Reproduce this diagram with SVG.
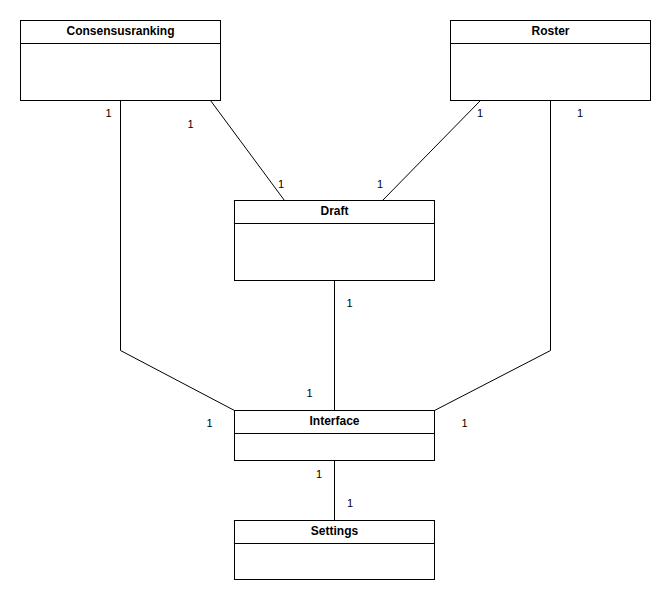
<svg xmlns="http://www.w3.org/2000/svg" width="671" height="601" viewBox="0 0 671 601">
  <style>
    .box { fill: #ffffff; stroke: #000000; stroke-width: 1; }
    .sep { stroke: #000000; stroke-width: 1; fill: none; }
    .edge { stroke: #000000; stroke-width: 1; fill: none; }
    .title { font-family: "Liberation Sans", Arial, sans-serif; font-size: 12px; font-weight: bold; text-anchor: middle; fill: #000000; }
    .mult { font-family: "Liberation Sans", Arial, sans-serif; font-size: 11px; text-anchor: middle; fill: #000000; }
  </style>
  <rect width="671" height="601" fill="#ffffff"/>

  <!-- associations -->
  <g id="connectors">
    <polyline class="edge" points="120.5,100.5 120.5,350.5 234.5,410.5"/>
    <line class="edge" x1="210.5" y1="100.5" x2="284.5" y2="200.5"/>
    <line class="edge" x1="480.5" y1="100.5" x2="382.5" y2="200.5"/>
    <polyline class="edge" points="550.5,100.5 550.5,350.5 434.5,410.5"/>
    <line class="edge" x1="334.5" y1="280.5" x2="334.5" y2="410.5"/>
    <line class="edge" x1="334.5" y1="460.5" x2="334.5" y2="520.5"/>
    <text class="mult" x="108.5" y="117">1</text>
    <text class="mult" x="190.5" y="128">1</text>
    <text class="mult" x="281" y="188">1</text>
    <text class="mult" x="380" y="188">1</text>
    <text class="mult" x="480" y="117">1</text>
    <text class="mult" x="580" y="117">1</text>
    <text class="mult" x="349.5" y="307">1</text>
    <text class="mult" x="309.5" y="397">1</text>
    <text class="mult" x="209.5" y="427">1</text>
    <text class="mult" x="464.5" y="427">1</text>
    <text class="mult" x="319" y="478">1</text>
    <text class="mult" x="350" y="507">1</text>
  </g>

  <g id="consensusranking">
    <rect class="box" x="20.5" y="20.5" width="200" height="80"/>
    <line class="sep" x1="20.5" y1="43.5" x2="220.5" y2="43.5"/>
    <text class="title" x="120.5" y="35">Consensusranking</text>
  </g>

  <g id="roster">
    <rect class="box" x="450.5" y="20.5" width="200" height="80"/>
    <line class="sep" x1="450.5" y1="43.5" x2="650.5" y2="43.5"/>
    <text class="title" x="550.5" y="35">Roster</text>
  </g>

  <g id="draft">
    <rect class="box" x="234.5" y="200.5" width="200" height="80"/>
    <line class="sep" x1="234.5" y1="223.5" x2="434.5" y2="223.5"/>
    <text class="title" x="334.5" y="215">Draft</text>
  </g>

  <g id="interface">
    <rect class="box" x="234.5" y="410.5" width="200" height="50"/>
    <line class="sep" x1="234.5" y1="433.5" x2="434.5" y2="433.5"/>
    <text class="title" x="334.5" y="425">Interface</text>
  </g>

  <g id="settings">
    <rect class="box" x="234.5" y="520.5" width="200" height="59"/>
    <line class="sep" x1="234.5" y1="543.5" x2="434.5" y2="543.5"/>
    <text class="title" x="334.5" y="535">Settings</text>
  </g>
</svg>
